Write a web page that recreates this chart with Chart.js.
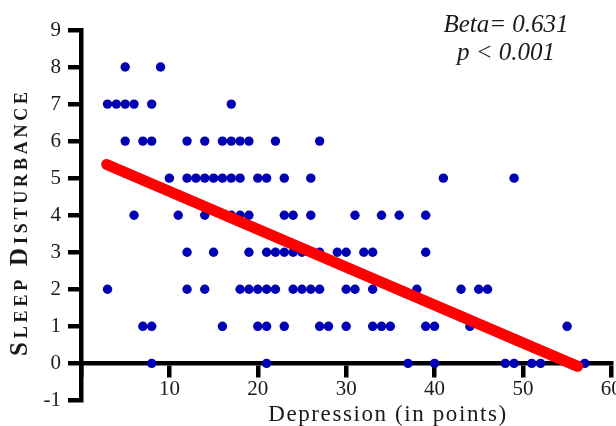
<!DOCTYPE html>
<html>
<head>
<meta charset="utf-8">
<script src="https://cdn.jsdelivr.net/npm/chart.js@4/dist/chart.umd.min.js"></script>
<style>
  html, body { margin: 0; padding: 0; background: #ffffff; }
  #wrap { width: 616px; height: 426px; position: relative; }
</style>
</head>
<body>
<div id="wrap"><canvas id="c" width="616" height="426"></canvas></div>
<script>
// Depression scores (x) of the participants at each Sleep Disturbance level (y)
const sleepLevel8 = [5, 9];
const sleepLevel7 = [3, 4, 5, 6, 8, 17];
const sleepLevel6 = [5, 7, 8, 12, 14, 16, 17, 18, 19, 22, 27];
const sleepLevel5 = [10, 12, 13, 14, 15, 16, 17, 18, 20, 21, 23, 26, 41, 49];
const sleepLevel4 = [6, 11, 14, 17, 18, 19, 23, 24, 26, 31, 34, 36, 39];
const sleepLevel3 = [12, 15, 19, 21, 22, 23, 24, 25, 27, 29, 30, 32, 33, 39];
const sleepLevel2 = [3, 12, 14, 18, 19, 20, 21, 22, 24, 25, 26, 27, 30, 31, 33, 38, 43, 45, 46];
const sleepLevel1 = [7, 8, 16, 20, 21, 23, 27, 28, 30, 33, 34, 35, 39, 40, 44, 55];
const sleepLevel0 = [8, 21, 37, 40, 48, 49, 51, 52, 57];

// Regression line end points
const fitLineX = [2.9, 56.2];
const fitLineY = [5.37, -0.08];

// Axis ticks
const xTicks = [0, 10, 20, 30, 40, 50, 60];
const yTicks = [-1, 0, 1, 2, 3, 4, 5, 6, 7, 8, 9];

// Texts
const xTitle = 'Depression (in points)';
const yTitle = 'Sleep Disturbance';
const statLine1 = 'Beta= 0.631';
const statLine2 = 'p < 0.001';

const levels = [
  [0, sleepLevel0], [1, sleepLevel1], [2, sleepLevel2], [3, sleepLevel3], [4, sleepLevel4],
  [5, sleepLevel5], [6, sleepLevel6], [7, sleepLevel7], [8, sleepLevel8]
];
const scatterData = [];
levels.forEach(([lvl, xs]) => xs.forEach(x => scatterData.push({ x: x, y: lvl })));
const lineData = fitLineX.map((x, i) => ({ x: x, y: fitLineY[i] }));

const textPlugin = {
  id: 'texts',
  afterDraw(chart) {
    const ctx = chart.ctx;
    // statistics
    ctx.save();
    ctx.fillStyle = '#1a1a1a';
    ctx.font = "italic 25px 'Liberation Serif'";
    ctx.textAlign = 'center';
    ctx.textBaseline = 'alphabetic';
    ctx.fillText(statLine1, 506, 31.5);
    ctx.fillText(statLine2, 506, 60);
    ctx.restore();

    // x axis title
    ctx.save();
    ctx.fillStyle = '#1a1a1a';
    ctx.font = "23px 'Liberation Serif'";
    try { ctx.letterSpacing = '1.6px'; } catch (e) {}
    ctx.textAlign = 'center';
    ctx.textBaseline = 'alphabetic';
    ctx.fillText(xTitle, 388, 420.5);
    ctx.restore();

    // y axis title (small caps, spaced)
    ctx.save();
    ctx.fillStyle = '#1a1a1a';
    ctx.translate(26.5, 222);
    ctx.rotate(-Math.PI / 2);
    ctx.font = "small-caps bold 25px 'Liberation Serif'";
    try { ctx.fontVariantCaps = 'small-caps'; } catch (e) {}
    try { ctx.letterSpacing = '3.8px'; } catch (e) {}
    ctx.textAlign = 'center';
    ctx.textBaseline = 'alphabetic';
    ctx.fillText(yTitle, 0, 0);
    ctx.restore();
  }
};

new Chart(document.getElementById('c'), {
  data: {
    datasets: [
      {
        type: 'line',
        label: 'Regression',
        data: lineData,
        borderColor: '#ff0000',
        borderWidth: 11,
        borderCapStyle: 'round',
        pointRadius: 0,
        fill: false,
        tension: 0,
        order: 0
      },
      {
        type: 'scatter',
        label: 'Participants',
        data: scatterData,
        backgroundColor: '#0000b4',
        borderWidth: 0,
        pointRadius: 4.7,
        order: 1
      }
    ]
  },
  options: {
    responsive: false,
    animation: false,
    events: [],
    layout: { padding: { top: 30, right: 4.7, left: 0, bottom: 25.6 } },
    plugins: { legend: { display: false }, tooltip: { enabled: false }, title: { display: false } },
    scales: {
      x: {
        type: 'linear',
        position: { y: 0 },
        min: 0,
        max: 60,
        afterBuildTicks: (s) => { s.ticks = xTicks.map(v => ({ value: v })); },
        afterFit: (s) => { s.height = 25.6; s.paddingLeft = 0; s.paddingRight = 0; },
        grid: { drawOnChartArea: false, drawTicks: true, tickLength: 12, color: '#000', lineWidth: 4.5 },
        border: { display: true, color: '#000', width: 4.5 },
        ticks: {
          color: '#1a1a1a',
          padding: 2,
          maxRotation: 0,
          autoSkip: false,
          font: { family: "'Liberation Serif'", size: 21 },
          callback: (v) => (v === 0 ? '' : String(v))
        }
      },
      y: {
        type: 'linear',
        position: 'left',
        min: -1,
        max: 9,
        afterBuildTicks: (s) => { s.ticks = yTicks.map(v => ({ value: v })); },
        afterFit: (s) => { s.width = 81; s.paddingTop = 0; s.paddingBottom = 0; },
        grid: { drawOnChartArea: false, drawTicks: true, tickLength: 13, color: '#000', lineWidth: 4.5 },
        border: { display: true, color: '#000', width: 4.5 },
        ticks: {
          color: '#1a1a1a',
          padding: 7,
          autoSkip: false,
          font: { family: "'Liberation Serif'", size: 21 }
        }
      }
    }
  },
  plugins: [textPlugin]
});
</script>
</body>
</html>
